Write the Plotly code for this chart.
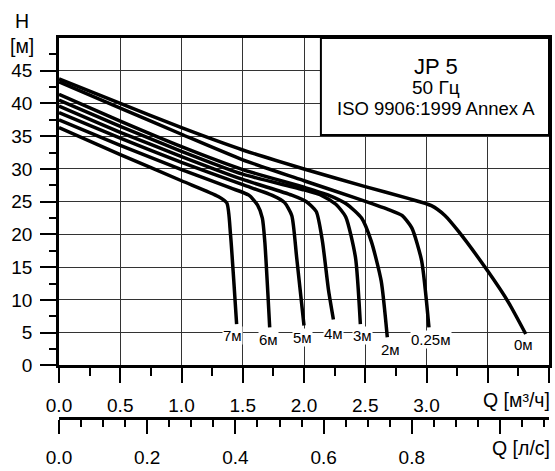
import plotly.graph_objects as go

FONT = "Liberation Sans"

# ---- data ----
labels = ["0м", "0.25м", "2м", "3м", "4м", "5м", "6м", "7м"]

q_0 = [0, 0.5, 1.0, 1.5, 2.0, 2.5, 2.85, 3.04, 3.15, 3.26, 3.5, 3.67, 3.81]
h_0 = [43.75, 40.0, 36.3, 32.9, 30.0, 27.3, 25.5, 24.4, 22.9, 20.5, 14.4, 9.6, 4.8]

q_025 = [0, 0.5, 1.0, 1.5, 2.0, 2.4, 2.69, 2.8, 2.88, 2.96, 3.02]
h_025 = [43.3, 39.3, 35.3, 31.4, 28.2, 25.7, 23.8, 22.9, 21.0, 16.0, 5.8]

q_2 = [0, 0.5, 1.0, 1.5, 2.0, 2.2, 2.35, 2.47, 2.55, 2.63, 2.68]
h_2 = [41.4, 37.3, 33.4, 29.9, 27.2, 26.0, 24.6, 22.5, 18.9, 12.9, 4.3]

q_3 = [0, 0.5, 1.0, 1.5, 2.0, 2.15, 2.26, 2.34, 2.42, 2.46]
h_3 = [40.5, 36.5, 32.7, 29.2, 26.8, 25.9, 24.6, 22.7, 16.5, 6.3]

q_4 = [0, 0.5, 1.0, 1.5, 1.9, 2.02, 2.1, 2.15, 2.2, 2.24]
h_4 = [39.6, 35.6, 31.9, 28.4, 26.0, 25.0, 23.5, 19.0, 11.5, 7.0]

q_5 = [0, 0.5, 1.0, 1.5, 1.75, 1.84, 1.9, 1.94, 2.0]
h_5 = [38.6, 34.7, 31.0, 27.6, 25.9, 24.9, 22.9, 16.5, 6.1]

q_6 = [0, 0.5, 1.0, 1.4, 1.55, 1.62, 1.66, 1.68, 1.72]
h_6 = [37.5, 33.6, 29.9, 27.1, 26.0, 24.5, 22.5, 18.9, 5.8]

q_7 = [0, 0.5, 1.0, 1.3, 1.37, 1.40, 1.43, 1.45]
h_7 = [36.3, 32.2, 28.2, 25.8, 24.8, 20.0, 12.0, 6.3]

curves = [(q_0, h_0), (q_025, h_025), (q_2, h_2), (q_3, h_3),
          (q_4, h_4), (q_5, h_5), (q_6, h_6), (q_7, h_7)]

# label anchor positions (Q [m3/h], H [m])
label_q = [3.79, 3.04, 2.71, 2.48, 2.24, 1.99, 1.71, 1.42]
label_h = [3.2, 3.9, 2.5, 4.6, 4.8, 4.3, 4.0, 4.5]

x_ticks = [0, 0.5, 1.0, 1.5, 2.0, 2.5, 3.0, 3.5, 4.0]
x_ticktext = ["0.0", "0.5", "1.0", "1.5", "2.0", "2.5", "3.0", "", ""]
x2_ticks = [0, 0.2, 0.4, 0.6, 0.8, 1.0]
x2_ticktext = ["0.0", "0.2", "0.4", "0.6", "0.8", ""]
y_ticks = [0, 5, 10, 15, 20, 25, 30, 35, 40, 45]

title_lines = ["JP 5", "50 Гц", "ISO 9906:1999 Annex A"]

# ---- figure ----
fig = go.Figure()
for q, h in curves:
    fig.add_trace(go.Scatter(x=q, y=h, mode="lines",
                             line=dict(color="black", width=3.5, shape="spline", smoothing=0.6),
                             hoverinfo="skip", showlegend=False))
fig.add_trace(go.Scatter(x=[], y=[], xaxis="x2", yaxis="y", showlegend=False))

tickfont = dict(family=FONT, size=19, color="black")

fig.update_layout(
    width=555, height=471,
    margin=dict(l=59, r=3, t=38, b=43),
    paper_bgcolor="white", plot_bgcolor="white",
    showlegend=False,
    xaxis=dict(range=[0, 4.0], domain=[0, 1], anchor="y",
               tickmode="array", tickvals=x_ticks, ticktext=x_ticktext,
               ticks="outside", ticklen=15, tickwidth=2, tickcolor="black",
               minor=dict(tickvals=[0.25, 0.75, 1.25, 1.75, 2.25, 2.75, 3.25, 3.75],
                          ticks="outside", ticklen=8, tickwidth=1.5, tickcolor="black", showgrid=False),
               showgrid=True, gridcolor="#333", gridwidth=1,
               showline=True, linecolor="black", linewidth=2.5, mirror=True,
               zeroline=False, tickfont=tickfont, ticklabelstandoff=6),
    xaxis2=dict(range=[0, 4.0 / 3.6], overlaying="x", anchor="free", position=0,
                tickmode="array", tickvals=x2_ticks, ticktext=x2_ticktext,
                ticks="outside", ticklen=14, tickwidth=2, tickcolor="black",
                minor=dict(dtick=0.05, ticks="outside", ticklen=7, tickwidth=1.5,
                           tickcolor="black", showgrid=False),
                showgrid=False, showline=True, linecolor="black", linewidth=2.5,
                zeroline=False, tickfont=tickfont, ticklabelstandoff=7),
    yaxis=dict(range=[0, 50], domain=[(428 - 374) / 390, 1],
               tickmode="array", tickvals=y_ticks,
               ticks="outside", ticklen=16, tickwidth=2, tickcolor="black",
               minor=dict(tickvals=[2.5, 7.5, 12.5, 17.5, 22.5, 27.5, 32.5, 37.5, 42.5, 47.5],
                          ticks="outside", ticklen=7, tickwidth=1.5, tickcolor="black", showgrid=False),
               showgrid=True, gridcolor="#333", gridwidth=1,
               showline=True, linecolor="black", linewidth=2.5, mirror=True,
               zeroline=False, tickfont=tickfont, ticklabelstandoff=4),
)

# title box
fig.add_shape(type="rect", xref="x", yref="y", x0=2.138, x1=4.0, y0=35.2, y1=50,
              fillcolor="white", line=dict(color="black", width=2), layer="above")
title_sizes = [22, 19, 18.5]
title_h = [45.6, 42.4, 39.3]
for t, s, hh in zip(title_lines, title_sizes, title_h):
    fig.add_annotation(x=3.08, y=hh, xref="x", yref="y", text=t, showarrow=False,
                       font=dict(family=FONT, size=s, color="black"),
                       xanchor="center", yanchor="middle")

# curve labels
for t, qq, hh in zip(labels, label_q, label_h):
    fig.add_annotation(x=qq, y=hh, xref="x", yref="y", text=t, showarrow=False,
                       font=dict(family=FONT, size=15, color="black"),
                       bgcolor="white", borderpad=0, xanchor="center", yanchor="middle")

# axis captions
cap_font = dict(family=FONT, size=19.5, color="black")
fig.add_annotation(x=-0.075, y=1.0436, xref="paper", yref="paper", text="H", showarrow=False,
                   font=cap_font, xanchor="center", yanchor="middle")
fig.add_annotation(x=-0.075, y=0.979, xref="paper", yref="paper", text="[м]", showarrow=False,
                   font=cap_font, xanchor="center", yanchor="middle")
fig.add_annotation(x=1.006, y=(428 - 410) / 390, xref="paper", yref="paper", text="Q [м³/ч]",
                   showarrow=False, font=cap_font, xanchor="right", yanchor="middle")
fig.add_annotation(x=1.006, y=(428 - 459) / 390, xref="paper", yref="paper", text="Q [л/с]",
                   showarrow=False, font=cap_font, xanchor="right", yanchor="middle")

fig.write_html("out.html", config={"displayModeBar": False},
               post_script="document.body.style.margin='0px';")
